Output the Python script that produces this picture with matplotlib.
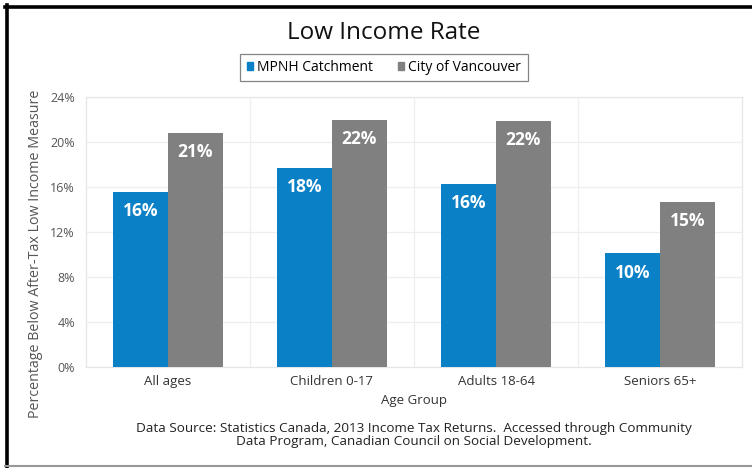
import matplotlib
matplotlib.use("Agg")
import matplotlib.pyplot as plt
from matplotlib.lines import Line2D
from matplotlib.patches import Rectangle
import numpy as np

plt.rcParams["font.family"] = ["Open Sans", "DejaVu Sans"]

# data
groups = ["All ages", "Children 0-17", "Adults 18-64", "Seniors 65+"]
mpnh = [15.6, 17.7, 16.3, 10.1]
vancouver = [20.8, 22.0, 21.9, 14.7]
mpnh_labels = ["16%", "18%", "16%", "10%"]
van_labels = ["21%", "22%", "22%", "15%"]
yticks = [0, 4, 8, 12, 16, 20, 24]

BLUE = "#0a80c6"
GREY = "#808080"

fig = plt.figure(figsize=(7.52, 4.68), dpi=100)
W, H = 752, 468

# frame lines around the picture
fig.add_artist(Line2D([5 / W, 1], [1 - 6.5 / H, 1 - 6.5 / H], color="black", lw=2.6,
                      transform=fig.transFigure))
fig.add_artist(Line2D([6.5 / W, 6.5 / W], [0, 1 - 5 / H], color="black", lw=2.6,
                      transform=fig.transFigure))
fig.add_artist(Line2D([5 / W, 1], [2 / H, 2 / H], color="#999999", lw=1.5,
                      transform=fig.transFigure))

ax = fig.add_axes([86 / W, (H - 367) / H, 656 / W, 270 / H])

x = np.arange(len(groups))
w = 0.333
b1 = ax.bar(x - w / 2, mpnh, w, color=BLUE, zorder=3)
b2 = ax.bar(x + w / 2, vancouver, w, color=GREY, zorder=3)

for bars, labels in ((b1, mpnh_labels), (b2, van_labels)):
    for bar, lab in zip(bars, labels):
        ax.text(bar.get_x() + bar.get_width() / 2, bar.get_height() - 0.9, lab,
                ha="center", va="top", color="white", fontsize=12.5, fontweight="bold",
                zorder=4)

ax.set_xlim(-0.5, len(groups) - 0.5)
ax.set_ylim(0, 24)
ax.set_yticks(yticks)
ax.set_yticklabels([f"{t}%" for t in yticks], fontsize=9, color="#555555")
ax.set_xticks(x)
ax.set_xticklabels(groups, fontsize=9.5, color="#333333")
ax.tick_params(length=0, pad=8)
ax.tick_params(axis="x", pad=6)

# grid: horizontal at ticks, vertical at category boundaries
for t in yticks[1:]:
    ax.axhline(t, color="#eeeeee", lw=0.9, zorder=1)
for b in np.arange(0.5, len(groups) - 0.5):
    ax.axvline(b, color="#eeeeee", lw=0.9, zorder=1)
for s in ax.spines.values():
    s.set_color("#e6e6e6")
    s.set_linewidth(0.9)

ax.set_xlabel("Age Group", fontsize=9.5, color="#333333", labelpad=4)
ax.set_ylabel("Percentage Below After-Tax Low Income Measure", fontsize=10.3,
              color="#555555")
ax.yaxis.set_label_coords(-0.066, 0.42)

fig.text(384 / W, 1 - 33 / H, "Low Income Rate", ha="center", va="center",
         fontsize=17.5, color="#111111")

leg = fig.legend(handles=[Rectangle((0, 0), 1, 1, color=BLUE),
                          Rectangle((0, 0), 1, 1, color=GREY)],
                 labels=["MPNH Catchment", "City of Vancouver"],
                 loc="center", bbox_to_anchor=(384 / W, 1 - 67.5 / H), ncol=2,
                 fontsize=10, frameon=True, fancybox=False, handlelength=0.45,
                 handleheight=0.45, handletextpad=0.3, columnspacing=1.8,
                 borderpad=0.45, borderaxespad=0)
leg.get_frame().set_edgecolor("#666666")
leg.get_frame().set_linewidth(0.9)

fig.text(414 / W, 1 - 435 / H,
         "Data Source: Statistics Canada, 2013 Income Tax Returns.  Accessed through Community\n"
         "Data Program, Canadian Council on Social Development.",
         ha="center", va="center", fontsize=9.7, color="#222222", linespacing=1.05)

fig.savefig("out.png", dpi=100)
